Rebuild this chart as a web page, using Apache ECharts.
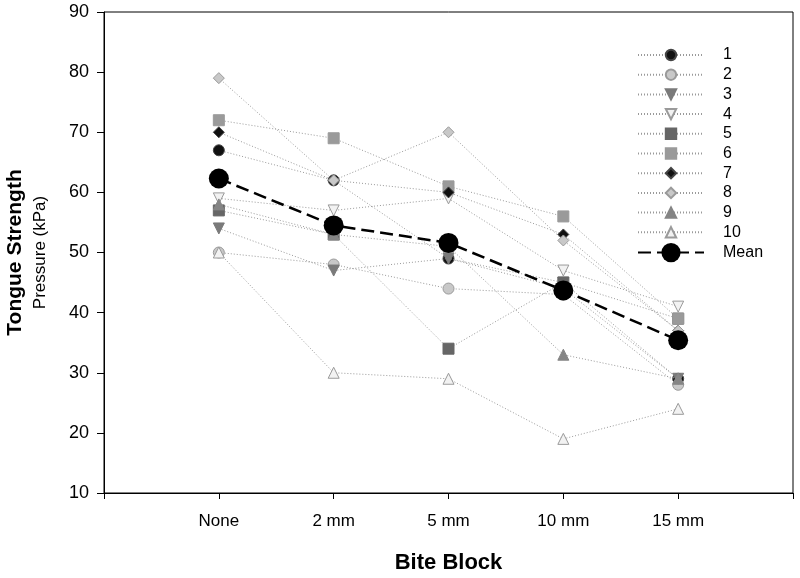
<!DOCTYPE html>
<html><head><meta charset="utf-8">
<script src="https://cdn.jsdelivr.net/npm/echarts@6/dist/echarts.min.js"></script>
<style>html,body{margin:0;padding:0;background:#fff}#c{width:800px;height:578px}</style>
</head><body><div id="c"></div>
<script>
// ---- data ----
const categories = ['None', '2 mm', '5 mm', '10 mm', '15 mm'];
const subjectNames = ['1', '2', '3', '4', '5', '6', '7', '8', '9', '10'];
const s1  = [67, 62, 49, 44, 29];
const s2  = [50, 48, 44, 43, 28];
const s3  = [54, 47, 49, 45, 29];
const s4  = [59, 57, 59, 47, 41];
const s5  = [57, 53, 34, 45, 39];
const s6  = [72, 69, 61, 56, 39];
const s7  = [70, 62, 60, 53, 37];
const s8  = [79, 62, 70, 52, 37];
const s9  = [58, 53, 51, 33, 29];
const s10 = [50, 30, 29, 19, 24];
const meanValues = [62.3, 54.5, 51.6, 43.7, 35.4];
const yMin = 10, yMax = 90, yStep = 10;

const subjects = [s1, s2, s3, s4, s5, s6, s7, s8, s9, s10];

// ---- styles ----
const markerStyles = [
  {symbol: 'circle',   rot: 0,   fill: '#111111', border: '#444444'},
  {symbol: 'circle',   rot: 0,   fill: '#c8c8c8', border: '#9a9a9a'},
  {symbol: 'triangle', rot: 180, fill: '#7a7a7a', border: '#7a7a7a'},
  {symbol: 'triangle', rot: 180, fill: '#f2f2f2', border: '#9a9a9a'},
  {symbol: 'rect',     rot: 0,   fill: '#666666', border: '#666666'},
  {symbol: 'rect',     rot: 0,   fill: '#9a9a9a', border: '#9a9a9a'},
  {symbol: 'diamond',  rot: 0,   fill: '#111111', border: '#444444'},
  {symbol: 'diamond',  rot: 0,   fill: '#c8c8c8', border: '#9a9a9a'},
  {symbol: 'triangle', rot: 0,   fill: '#858585', border: '#858585'},
  {symbol: 'triangle', rot: 0,   fill: '#f2f2f2', border: '#9a9a9a'}
];

const toPoints = arr => arr.map((v, i) => [i, v]);

const series = subjects.map((arr, k) => ({
  name: subjectNames[k],
  type: 'line',
  data: toPoints(arr),
  symbol: markerStyles[k].symbol,
  symbolRotate: markerStyles[k].rot,
  symbolSize: 11,
  showAllSymbol: true,
  lineStyle: {color: '#9a9a9a', width: 1, type: [1, 2]},
  itemStyle: {color: markerStyles[k].fill, borderColor: markerStyles[k].border, borderWidth: 1},
  z: 2 + k * 0.01
}));

series.push({
  name: 'Mean',
  type: 'line',
  data: toPoints(meanValues),
  symbol: 'circle',
  symbolSize: 20,
  lineStyle: {color: '#000', width: 2.5, type: [13, 6]},
  itemStyle: {color: '#000', borderColor: '#000', borderWidth: 0},
  z: 5
});

const font = 'Liberation Sans, Arial, sans-serif';

const option = {
  animation: false,
  backgroundColor: '#fff',
  grid: {left: 104, right: 7, top: 12, bottom: 85, show: true, borderColor: '#000', borderWidth: 1,
         containLabel: false, outerBoundsMode: 'none'},
  xAxis: {
    type: 'value', min: -1, max: 5, interval: 1,
    name: 'Bite Block', nameLocation: 'middle', nameGap: 59,
    nameTextStyle: {fontFamily: font, fontSize: 22, fontWeight: 'bold', color: '#000'},
    axisLine: {show: true, onZero: false, lineStyle: {color: '#000', width: 1}},
    axisTick: {show: true, length: 6, lineStyle: {color: '#000'}},
    axisLabel: {fontFamily: font, fontSize: 17, color: '#000', margin: 20,
      formatter: v => (categories[v] !== undefined ? categories[v] : '')},
    splitLine: {show: false}
  },
  yAxis: {
    type: 'value', min: yMin, max: yMax, interval: yStep,
    name: '{a|Tongue Strength}\n{b|Pressure (kPa)}', nameLocation: 'middle', nameGap: 53, nameRotate: 90,
    nameTextStyle: {fontFamily: font, color: '#000',
      rich: {a: {fontFamily: font, fontSize: 21, fontWeight: 'bold', color: '#000', lineHeight: 27},
             b: {fontFamily: font, fontSize: 17, color: '#000', lineHeight: 22}}},
    axisLine: {show: true, onZero: false, lineStyle: {color: '#000', width: 1}},
    axisTick: {show: true, length: 7, lineStyle: {color: '#000'}},
    axisLabel: {fontFamily: font, fontSize: 18, color: '#000', margin: 15},
    splitLine: {show: false}
  },
  legend: [
    {
      data: subjectNames, orient: 'vertical', left: 637, top: 47, padding: 0,
      itemWidth: 66, itemHeight: 13, itemGap: 3.7,
      textStyle: {fontFamily: font, fontSize: 16, lineHeight: 13, color: '#000', padding: [0, 0, 0, 14]},
      selectedMode: false
    },
    {
      data: ['Mean'], orient: 'vertical', left: 637, top: 243, padding: 0,
      itemWidth: 66, itemHeight: 24,
      textStyle: {fontFamily: font, fontSize: 16, color: '#000', padding: [0, 0, 0, 14]},
      selectedMode: false
    }
  ],
  series: series
};

const chart = echarts.init(document.getElementById('c'), null, {renderer: 'canvas'});
chart.setOption(option);
</script>
</body></html>
